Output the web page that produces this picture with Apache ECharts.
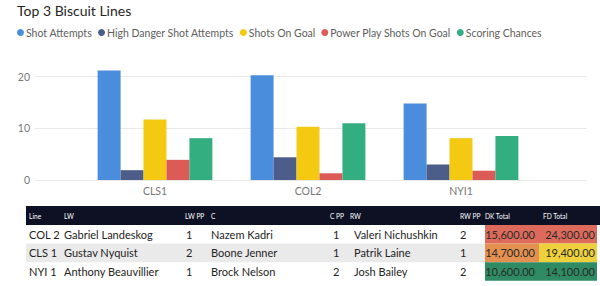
<!DOCTYPE html>
<html>
<head>
<meta charset="utf-8">
<script src="https://cdn.jsdelivr.net/npm/echarts@6/dist/echarts.min.js"></script>
<style>
  html, body { margin: 0; padding: 0; background: #fff; }
  #chart { width: 600px; height: 286px; }
</style>
</head>
<body>
<div id="chart"></div>
<script>
const chart = echarts.init(document.getElementById("chart"), null, { renderer: "svg" });

// bar chart data
const categories = ["CLS1", "COL2", "NYI1"];
const seriesNames = ["Shot Attempts", "High Danger Shot Attempts", "Shots On Goal", "Power Play Shots On Goal", "Scoring Chances"];
const shotAttempts = [21.2, 20.3, 14.8];
const highDanger = [1.9, 4.4, 3.0];
const shotsOnGoal = [11.7, 10.3, 8.1];
const ppShotsOnGoal = [3.9, 1.3, 1.8];
const scoringChances = [8.1, 11.0, 8.5];
const yTicks = [0, 10, 20];

// table data
const tableHeaders = ["Line", "LW", "LW PP", "C", "C PP", "RW", "RW PP", "DK Total", "FD Total"];
const lineNames = ["COL 2", "CLS 1", "NYI 1"];
const lwNames = ["Gabriel Landeskog", "Gustav Nyquist", "Anthony Beauvillier"];
const lwPP = [1, 2, 1];
const cNames = ["Nazem Kadri", "Boone Jenner", "Brock Nelson"];
const cPP = [1, 1, 2];
const rwNames = ["Valeri Nichushkin", "Patrik Laine", "Josh Bailey"];
const rwPP = [2, 1, 2];
const dkTotal = [15600, 14700, 10600];
const fdTotal = [24300, 19400, 14100];

const colors = ["#4A8DDC", "#4C5D8A", "#F3C911", "#DC5B57", "#33AE81"];
const font = "Lato, 'Open Sans', sans-serif";
const yMax = 21.3;

// conditional formatting: green (low) -> yellow (mid) -> red (high)
function hexToRgb(h) {
  return [parseInt(h.slice(1, 3), 16), parseInt(h.slice(3, 5), 16), parseInt(h.slice(5, 7), 16)];
}
function mix(a, b, t) {
  const ca = hexToRgb(a), cb = hexToRgb(b);
  return "rgb(" + ca.map((v, i) => Math.round(v + (cb[i] - v) * t)).join(",") + ")";
}
function scaleColor(v, list) {
  const min = Math.min(...list), max = Math.max(...list);
  const t = (v - min) / (max - min);
  if (t <= 0.5) return mix("#2E8B63", "#EFD43C", t / 0.5);
  return mix("#EFD43C", "#DE6A5C", (t - 0.5) / 0.5);
}
function fmt(v) {
  return v.toLocaleString("en-US", { minimumFractionDigits: 2, maximumFractionDigits: 2 });
}

// table layout
const tableLeft = 26;
const headerTop = 206;
const headerH = 19;
const rowH = 18.6;
const textX = [29, 64, 185, 211, 330, 350, 460, 485, 543];
const rowTextX = [29, 64, 186, 211, 333, 354, 460];
const dkLeft = 485, fdLeft = 539, fdRight = 597;
const cellFont = 11;

const graphics = [];
graphics.push({
  type: "rect",
  shape: { x: tableLeft, y: headerTop, width: 600 - tableLeft, height: headerH },
  style: { fill: "#0E1124" },
});
tableHeaders.forEach((h, i) => {
  graphics.push({
    type: "text",
    x: textX[i],
    y: headerTop + headerH / 2,
    style: { text: h, fill: "#fff", fontSize: 6.6, fontFamily: font, verticalAlign: "middle" },
  });
});
lineNames.forEach((name, r) => {
  const top = headerTop + headerH + r * rowH;
  if (r === 1) {
    graphics.push({
      type: "rect",
      shape: { x: tableLeft, y: top, width: dkLeft - tableLeft, height: rowH },
      style: { fill: "#EAEAEB" },
    });
  }
  graphics.push({
    type: "rect",
    shape: { x: dkLeft, y: top, width: fdLeft - dkLeft, height: rowH },
    style: { fill: scaleColor(dkTotal[r], dkTotal) },
  });
  graphics.push({
    type: "rect",
    shape: { x: fdLeft, y: top, width: fdRight - fdLeft, height: rowH },
    style: { fill: scaleColor(fdTotal[r], fdTotal) },
  });
  const cells = [name, lwNames[r], String(lwPP[r]), cNames[r], String(cPP[r]), rwNames[r], String(rwPP[r])];
  cells.forEach((c, i) => {
    graphics.push({
      type: "text",
      x: rowTextX[i],
      y: top + rowH / 2,
      style: { text: c, fill: "#252423", fontSize: cellFont, fontFamily: font, verticalAlign: "middle" },
    });
  });
  graphics.push({
    type: "text",
    x: fdLeft - 4,
    y: top + rowH / 2,
    style: { text: fmt(dkTotal[r]), fill: "#2a2a2a", fontSize: cellFont, fontFamily: font, align: "right", verticalAlign: "middle" },
  });
  graphics.push({
    type: "text",
    x: fdRight - 2,
    y: top + rowH / 2,
    style: { text: fmt(fdTotal[r]), fill: "#2a2a2a", fontSize: cellFont, fontFamily: font, align: "right", verticalAlign: "middle" },
  });
});

const values = [shotAttempts, highDanger, shotsOnGoal, ppShotsOnGoal, scoringChances];

const option = {
  animation: false,
  color: colors,
  title: {
    text: "Top 3 Biscuit Lines",
    left: 17,
    top: 3,
    padding: 0,
    textStyle: { fontSize: 14, fontWeight: "normal", color: "#252423", fontFamily: font },
  },
  legend: {
    left: 17,
    top: 27,
    padding: 0,
    icon: "circle",
    itemWidth: 7,
    itemHeight: 7,
    itemGap: 6,
    textStyle: { fontSize: 10.5, color: "#605E5C", fontFamily: font, padding: [0, 0, 0, -3] },
    data: seriesNames,
  },
  grid: [
    { left: 35, right: 13, top: 70, bottom: 106 },
    { left: 78.5, right: 62.5, top: 70, bottom: 106 },
  ],
  xAxis: [
    { gridIndex: 0, type: "value", min: 0, max: 1, show: false },
    {
      gridIndex: 1,
      type: "category",
      data: categories,
      axisLine: { show: false },
      axisTick: { show: false },
      axisLabel: { color: "#777", fontSize: 10.5, fontFamily: font, margin: 5 },
    },
  ],
  yAxis: [
    {
      gridIndex: 0,
      type: "value",
      min: 0,
      max: yMax,
      interval: 10,
      axisLine: { show: false },
      axisTick: { show: false },
      axisLabel: {
        color: "#777",
        fontSize: 10.5,
        fontFamily: font,
        margin: 5,
        showMaxLabel: false,
        formatter: (v) => (yTicks.includes(v) ? String(v) : ""),
      },
      splitLine: { lineStyle: { color: ["#E9E9E9", "#E9E9E9", "#E9E9E9", "rgba(0,0,0,0)"] } },
    },
    { gridIndex: 1, type: "value", min: 0, max: yMax, show: false, splitLine: { show: false } },
  ],
  series: seriesNames.map((name, i) => ({
    name: name,
    type: "bar",
    xAxisIndex: 1,
    yAxisIndex: 1,
    data: values[i],
    barGap: "0%",
    barCategoryGap: "25%",
  })),
  graphic: graphics,
};

chart.setOption(option);
</script>
</body>
</html>
